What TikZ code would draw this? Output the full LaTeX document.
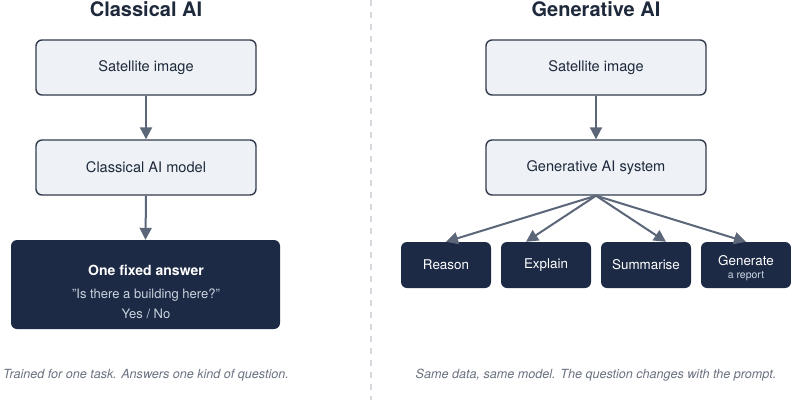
\documentclass[tikz,border=0pt]{standalone}
\usepackage{fontspec}
\setmainfont{TeX Gyre Heros}
\usetikzlibrary{arrows.meta}
\definecolor{boxfill}{HTML}{EEF2F7}
\definecolor{boxline}{HTML}{323C4C}
\definecolor{navy}{HTML}{1C2A45}
\definecolor{inktext}{HTML}{1E293B}
\definecolor{arrowc}{HTML}{5B6779}
\definecolor{capgray}{HTML}{6B7280}
\definecolor{subgray}{HTML}{CBD3DF}
\definecolor{divider}{HTML}{D6D9DE}
\tikzset{
  lightbox/.style={draw=boxline, line width=1.4pt, fill=boxfill, rounded corners=6pt,
    minimum width=220pt, minimum height=55pt, inner sep=0pt, text=inktext,
    font=\fontsize{14.6}{17}\selectfont},
  darkbox/.style={fill=navy, rounded corners=6pt, inner sep=0pt, text=white},
  smallbox/.style={darkbox, minimum width=90pt, minimum height=46pt,
    font=\fontsize{13.4}{15}\selectfont},
  flow/.style={draw=arrowc, line width=2pt, -{Triangle[length=12pt,width=12pt]}},
  ttl/.style={font=\bfseries\fontsize{20}{24}\selectfont, text=inktext},
  captext/.style={font=\itshape\fontsize{12.6}{14}\selectfont, text=capgray},
}
\begin{document}
\begin{tikzpicture}[x=1pt,y=-1pt]
\useasboundingbox (0,0) rectangle (791,400);
\fill[white] (0,0) rectangle (791,400);
% divider
\draw[divider, line width=1.5pt, dash pattern=on 6pt off 6pt] (371,0) -- (371,400);

% Left column
\node[ttl] (tl) at (146,9) {Classical AI};
\node[lightbox] (ls) at (146,67.5) {Satellite image};
\node[lightbox] (lm) at (146,167.5) {Classical AI model};
\node[darkbox, minimum width=269pt, minimum height=89pt] (la) at (145.5,284.5) {};
\node[text=white, font=\bfseries\fontsize{14}{16}\selectfont] (lat) at (146,270) {One fixed answer};
\node[text=subgray, font=\fontsize{13}{15}\selectfont] (laq) at (146,295.5) {\symbol{34}Is there a building here?\symbol{34}};
\node[text=subgray, font=\fontsize{13}{15}\selectfont] (lay) at (146,313.5) {Yes / No};
\draw[flow] (ls.south) -- (lm.north);
\draw[flow] (lm.south) -- (la.north);
\node[captext] (lc) at (146,375) {Trained for one task. Answers one kind of question.};

% Right column
\node[ttl] (tr) at (596,9) {Generative AI};
\node[lightbox] (rs) at (596,67.5) {Satellite image};
\node[lightbox] (rm) at (596,167.5) {Generative AI system};
\node[smallbox] (b1) at (446,265) {Reason};
\node[smallbox] (b2) at (546,265) {Explain};
\node[smallbox] (b3) at (646,265) {Summarise};
\node[smallbox, minimum height=46pt] (b4) at (746,265) {};
\node[text=white, font=\fontsize{13.4}{15}\selectfont] (b4a) at (746,260.5) {Generate};
\node[text=subgray, font=\fontsize{10.5}{12}\selectfont] (b4b) at (746,276) {a report};
\draw[flow] (rs.south) -- (rm.north);
\draw[flow] (rm.south) -- (b1.north);
\draw[flow] (rm.south) -- ([xshift=-20pt]b2.north);
\draw[flow] (rm.south) -- ([xshift=20pt]b3.north);
\draw[flow] (rm.south) -- (b4.north);
\node[captext] (rc) at (596,375) {Same data, same model. The question changes with the prompt.};
\end{tikzpicture}
\end{document}
